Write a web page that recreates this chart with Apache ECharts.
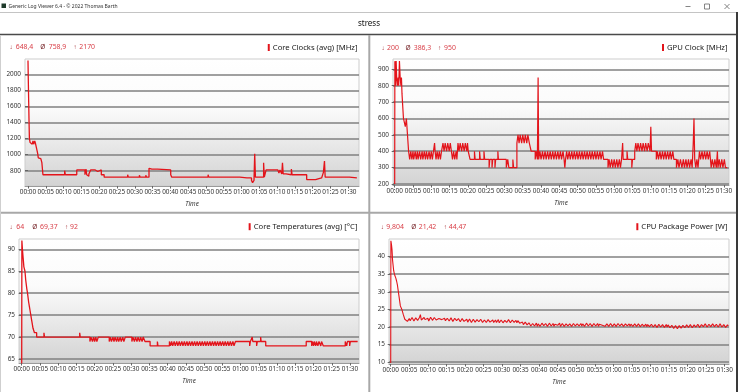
<!DOCTYPE html>
<html><head><meta charset="utf-8">
<script src="https://cdn.jsdelivr.net/npm/echarts@6/dist/echarts.min.js"></script>
<style>html,body{margin:0;padding:0;background:#fff}#c{width:738px;height:392px}</style>
</head><body><div id="c"></div>
<script>
// ---------- data (minutes, value) ----------
const timeTicks = [0,5,10,15,20,25,30,35,40,45,50,55,60,65,70,75,80,85,90];
const clockTicks = [800,1000,1200,1400,1600,1800,2000];
const gpuTicks = [200,300,400,500,600,700,800,900];
const tempTicks = [65,70,75,80,85,90];
const powerTicks = [10,15,20,25,30,35,40];

const clockStats = ['648,4','758,9','2170'];
const gpuStats = ['200','386,3','950'];
const tempStats = ['64','69,37','92'];
const powerStats = ['9,804','21,42','44,47'];

const panelTitles = ['Core Clocks (avg) [MHz]','GPU Clock [MHz]','Core Temperatures (avg) [°C]','CPU Package Power [W]'];

const clockData = [
[0,2170],[0.1,1900],[0.2,1650],[0.3,1400],[0.4,1200],[0.6,1150],[0.9,1130],[1.2,1110],[1.4,1170],[1.6,1130],[1.9,1170],[2.1,1140],[2.3,1100],[2.5,1060],[2.7,1020],[2.9,960],[3.2,950],[3.6,930],[3.9,900],[4.2,750],
[10.3,800],[10.5,750],
[13.7,810],[16.0,750],[16.3,820],[16.5,750],[16.8,730],[17.1,760],[17.6,810],[18.9,790],[19.2,810],[19.4,790],[19.6,810],[20.6,750],[21.4,720],
[28.0,750],[28.2,720],[31.3,745],[31.5,720],[33.1,745],[33.3,720],
[34.0,830],[34.4,820],[34.8,840],[35.2,820],[35.6,835],[36.0,820],[36.4,830],[36.9,810],[40.1,750],[40.4,720],
[50.6,750],[50.8,720],
[59.5,710],[61.5,700],[61.8,710],[62.8,680],[63.1,650],[63.5,680],[63.7,1010],[63.9,720],[66.2,900],[66.4,720],[66.9,810],[70.2,790],[70.5,770],[70.8,810],[71.3,760],[71.5,900],[71.7,760],[72.5,750],[74.0,820],[74.2,750],[76.5,740],[77.0,750],[78.3,690],[80.8,700],[81.5,710],[82.5,700],[83.0,780],[83.3,920],[83.5,720],[85.2,740],[85.4,720],[86.9,740],[87.1,720],[88.2,740],[88.4,720],[90.3,710],[92.4,710]
];

const gpuData = [
[0,200],[0.05,950],[0.25,800],[0.4,950],[0.55,850],[0.75,800],[0.95,850],[1.1,800],[1.3,950],[1.5,850],[1.7,800],[1.85,850],[2.0,750],[2.4,600],[2.9,550],[3.2,600],[3.35,550],[3.8,400],
[4.1,350],[4.4,400],[4.7,350],[5.0,400],[5.2,350],[5.6,400],[5.9,350],[6.2,400],[6.4,350],[6.8,400],[7.1,350],[7.5,400],[7.7,350],[8.1,400],[8.4,350],[8.7,400],[9.0,350],[9.4,400],[9.7,350],[10.0,400],[10.3,350],[10.6,400],[10.9,450],[11.05,400],[11.3,350],[11.6,400],[11.9,350],[12.2,400],[12.5,350],[12.8,400],
[13.2,450],[13.5,400],[13.8,450],[14.2,400],[14.5,450],[14.9,400],[15.2,450],[15.5,400],[15.8,350],[16.1,400],[16.4,350],[16.8,400],[17.0,350],
[17.3,450],[17.6,400],[17.9,450],[18.3,400],[18.6,450],[19.0,400],[19.3,450],[19.7,400],[19.9,450],[20.1,400],
[20.6,350],[21.8,400],[22.0,350],[23.2,400],[23.4,350],[24.4,400],[24.6,350],
[25.8,300],[26.0,350],[26.6,300],[26.8,350],[27.4,300],[27.6,350],[28.2,400],[28.35,350],
[30.5,300],[30.9,350],[31.2,300],[32.3,350],[32.5,300],[33.4,450],
[33.7,500],[34.0,450],[34.3,500],[34.7,450],[35.0,500],[35.4,450],[35.7,500],[36.1,450],[36.4,500],[36.8,450],[37.3,400],
[38.4,350],[38.7,400],[39.0,350],[39.2,850],[39.35,350],
[39.7,400],[40.0,350],[40.4,400],[40.7,350],[41.1,400],[41.4,350],[41.8,400],[42.1,350],[42.5,400],[42.8,350],[43.2,400],[43.5,350],[43.9,400],[44.2,350],[44.6,400],[44.9,350],[45.3,400],[45.6,350],[46.0,400],[46.3,350],[46.5,300],[46.7,350],
[47.0,400],[47.3,350],[47.7,400],[48.0,350],[48.4,400],[48.7,350],[49.1,400],[49.4,350],[49.8,400],[50.1,350],[50.5,400],[50.8,350],[51.2,400],[51.5,350],[51.9,400],[52.2,350],[52.6,400],[52.9,350],[53.3,400],[53.6,350],[54.0,400],[54.3,350],[54.7,400],[55.0,350],[55.4,400],[55.7,350],[56.1,400],[56.4,350],[56.8,400],[57.1,350],
[58.3,300],[58.6,350],[58.9,300],[59.3,350],[59.6,300],[60.0,350],[60.3,300],[60.7,350],[61.0,300],[61.4,350],[61.7,300],[62.0,350],[62.3,450],[62.45,350],
[63.5,400],[63.7,350],[64.8,300],[65.0,350],
[65.6,400],[65.9,450],[66.2,400],[66.5,450],[66.9,400],[67.2,450],[67.6,400],[67.9,450],[68.3,400],[68.6,450],[69.0,400],[69.3,450],[69.8,400],[70.0,550],[70.2,400],
[71.5,350],[71.8,400],[72.1,350],[72.5,400],[72.8,350],[73.2,400],[73.5,350],[73.9,400],[74.2,350],[74.6,400],[74.9,350],[75.3,400],[75.6,350],[76.0,400],[76.3,350],
[77.0,300],[77.4,350],[77.7,300],[78.1,350],[78.5,300],[78.9,350],[79.2,300],[79.6,350],[79.9,300],[80.3,350],[80.6,300],[81.0,350],[81.3,300],[81.6,450],[81.8,600],[82.0,350],[82.3,300],[82.6,350],[82.9,300],
[83.3,400],[83.6,350],[84.0,400],[84.3,350],[84.7,400],[85.0,350],[85.4,400],[85.7,350],[86.1,400],
[86.5,300],[86.8,350],[87.2,300],[87.5,350],[87.9,300],[88.2,400],[88.35,300],[88.7,350],[89.0,300],[89.4,350],[89.7,300],[90.1,350],[90.4,300],[90.9,300]
];

const tempData = [
[0,64],[0.05,92],[0.2,90],[0.4,88],[0.6,86],[0.9,85],[1.1,83],[1.4,81],[1.6,80],[1.9,78],[2.1,77],[2.3,76],[2.5,75],[2.7,74],[2.9,73],[3.1,72],[3.5,71],[4.1,70],
[6.1,71],[6.25,70],[15.9,71],[16.05,70],
[18.7,69],[19.0,70],[19.4,69],[19.7,70],[20.0,69],[20.3,70],[20.6,69],[21.0,70],
[24.0,69],[24.3,70],[24.6,69],[25.0,70],[25.3,69],[25.6,70],[26.0,69],[26.3,70],[26.6,69],[27.0,70],[27.3,69],[27.7,70],[28.0,69],[28.4,70],
[30.2,69],[30.5,70],[30.9,69],[31.2,70],[31.6,69],[31.9,70],[32.3,69],[32.6,70],[33.0,69],[33.3,70],[33.8,69],
[35.2,68],[37.2,69],[37.35,68],
[40.5,69],[40.8,68],[41.1,69],[41.4,68],[41.8,69],[42.1,68],[42.5,69],[42.8,68],[43.2,69],[43.5,68],[43.9,69],[44.2,68],[44.6,69],[44.9,68],[45.3,69],[45.6,68],[46.0,69],[46.3,68],[46.7,69],[47.0,68],[47.4,69],[47.7,68],[48.1,69],[48.4,68],[48.8,69],[49.1,68],[49.5,69],[49.8,68],[50.2,69],[50.5,68],[50.9,69],[51.2,68],[51.6,69],[51.9,68],[52.3,69],[52.6,68],[53.0,69],[53.3,68],[53.7,69],[54.0,68],[54.4,69],[54.7,68],[55.1,69],[55.4,68],[55.8,69],[56.1,68],[56.5,69],[56.8,68],[57.2,69],[57.5,68],[57.9,69],[58.2,68],[58.6,69],
[62.5,68],[62.7,69],[63.2,70],[63.35,69],[64.4,68],[64.6,69],[65.5,70],[65.65,69],[66.9,68],
[78.0,69],[79.5,68],[79.7,69],[80.0,68],[80.2,69],[80.6,68],[80.8,69],[81.2,68],[81.5,69],[82.0,68],[82.2,69],[82.7,68],
[88.7,69],[89.1,68],[89.3,69],[89.9,68],[90.1,69],[92.1,69]
];

const powerData = [
[0,9.8],[0.05,44.5],[0.2,43.5],[0.35,42],[0.5,39],[0.65,38.5],[0.8,36],[1.0,35],[1.2,34.5],[1.4,33.8],[1.6,33],[1.8,32],[2.0,30.5],[2.2,29],[2.4,27.5],[2.6,26],[2.8,25.5],[3.0,25],[3.2,24.5],[3.4,23.5],[3.6,23],[3.8,22.2],[4.0,21.8],[4.3,22.2],[4.5,21.6],
[5,22.4],[5.25,21.8],[5.5,21.9],[5.75,22.7],[6,22.6],[6.25,21.7],[6.5,22.0],[6.75,22.6],[7,22.8],[7.25,21.9],[7.5,22.1],[7.75,22.7],[8,23.5],[8.25,22.0],[8.5,22.2],[8.75,21.8],[9,22.7],[9.25,22.1],[9.5,21.8],[9.75,22.6],
[10,22.5],[10.25,21.7],[10.5,22.0],[10.75,22.8],[11,22.9],[11.25,21.9],[11.5,22.2],[11.75,22.7],[12,22.6],[12.25,22.0],[12.5,21.7],[12.75,22.5],[13,22.4],[13.25,21.9],[13.5,22.8],[13.75,22.1],[14,21.9],[14.25,22.6],[14.5,22.5],[14.75,21.8],
[15,22.1],[15.25,22.5],[15.5,22.7],[15.75,21.7],[16,21.8],[16.25,22.6],[16.5,22.4],[16.75,21.6],[17,22.0],[17.25,22.5],[17.5,22.9],[17.75,21.8],[18,21.6],[18.25,22.4],[18.5,22.3],[18.75,21.5],[19,21.7],[19.25,22.4],[19.5,22.5],[19.75,21.6],
[20,21.4],[20.25,22.1],[20.5,22.2],[20.75,21.4],[21,21.6],[21.25,22.3],[21.5,22.4],[21.75,21.3],[22,21.5],[22.25,22.2],[22.5,22.0],[22.75,21.4],[23,21.3],[23.25,22.1],[23.5,22.3],[23.75,21.5],[24,21.6],[24.25,22.2],[24.5,22.1],[24.75,21.3],
[25,21.4],[25.25,22.0],[25.5,22.2],[25.75,21.3],[26,21.5],[26.25,22.1],[26.5,21.9],[26.75,21.4],[27,21.2],[27.25,21.9],[27.5,22.0],[27.75,21.3],[28,21.6],[28.25,22.0],[28.5,21.3],[28.75,21.8],[29,22.1],[29.25,21.2],[29.5,21.5],[29.75,22.0],
[30,21.8],[30.25,21.2],[30.5,21.3],[30.75,21.9],[31,22.2],[31.25,21.3],[31.5,21.5],[31.75,22.1],[32,21.9],[32.25,21.2],[32.5,21.4],[32.75,22.0],[33,22.0],[33.25,21.3],[33.5,21.6],[33.75,21.9],[34,21.2],[34.25,21.8],[34.5,21.7],[34.75,21.1],
[35,21.1],[35.25,21.6],[35.5,21.4],[35.75,20.7],[36,20.8],[36.25,21.4],[36.5,21.2],[36.75,20.6],[37,20.5],[37.25,21.2],[37.5,21.0],[37.75,20.3],[38,20.4],[38.25,21.0],[38.5,21.1],[38.75,20.3],[39,20.6],[39.25,21.1],[39.5,20.2],[39.75,20.9],
[40,21.0],[40.25,20.2],[40.5,20.5],[40.75,21.1],[41,21.2],[41.25,20.4],[41.5,20.3],[41.75,21.0],[42,20.9],[42.25,20.2],[42.5,20.4],[42.75,21.1],[43,21.3],[43.25,20.3],[43.5,20.6],[43.75,21.0],[44,20.2],[44.25,20.8],[44.5,21.0],[44.75,20.3],
[45,20.5],[45.25,21.0],[45.5,21.1],[45.75,20.2],[46,20.3],[46.25,21.0],[46.5,20.9],[46.75,20.2],[47,20.4],[47.25,20.9],[47.5,21.2],[47.75,20.3],[48,20.1],[48.25,20.9],[48.5,20.8],[48.75,20.2],[49,20.5],[49.25,21.0],[49.5,21.0],[49.75,20.3],
[50,20.2],[50.25,20.9],[50.5,21.4],[50.75,20.3],[51,20.6],[51.25,21.0],[51.5,20.3],[51.75,20.9],[52,21.0],[52.25,20.2],[52.5,20.5],[52.75,21.1],[53,21.2],[53.25,20.3],[53.5,20.4],[53.75,21.0],[54,20.9],[54.25,20.2],[54.5,20.3],[54.75,21.0],
[55,21.0],[55.25,20.3],[55.5,20.6],[55.75,21.0],[56,20.2],[56.25,20.8],[56.5,21.1],[56.75,20.3],[57,20.5],[57.25,21.0],[57.5,20.9],[57.75,20.2],[58,20.3],[58.25,20.9],[58.5,21.0],[58.75,20.2],[59,20.4],[59.25,21.0],[59.5,20.8],[59.75,20.2],
[60,20.3],[60.25,20.9],[60.5,21.0],[60.75,20.2],[61,20.5],[61.25,21.0],[61.5,20.9],[61.75,20.3],[62,20.2],[62.25,20.9],[62.5,20.8],[62.75,20.2],[63,20.4],[63.25,20.9],[63.5,21.1],[63.75,20.3],[64,20.5],[64.25,20.9],[64.5,20.2],[64.75,20.8],
[65,20.9],[65.25,20.2],[65.5,20.4],[65.75,20.9],[66,21.0],[66.25,20.2],[66.5,20.3],[66.75,20.9],[67,20.7],[67.25,20.1],[67.5,20.2],[67.75,20.8],[68,20.9],[68.25,20.2],[68.5,20.5],[68.75,20.8],[69,20.1],[69.25,20.7],[69.5,20.8],[69.75,20.1],
[70,20.3],[70.25,20.8],[70.5,20.9],[70.75,20.0],[71,20.1],[71.25,20.7],[71.5,20.6],[71.75,19.9],[72,20.2],[72.25,20.8],[72.5,20.8],[72.75,20.0],[73,20.0],[73.25,20.7],[73.5,20.7],[73.75,19.9],[74,20.3],[74.25,20.7],[74.5,20.0],[74.75,20.6],
[75,20.6],[75.25,19.8],[75.5,19.8],[75.75,20.5],[76,20.4],[76.25,19.6],[76.5,19.6],[76.75,20.4],[77,20.2],[77.25,19.5],[77.5,19.7],[77.75,20.4],[78,20.3],[78.25,19.7],[78.5,19.9],[78.75,20.5],[79,20.5],[79.25,19.8],[79.5,20.0],[79.75,20.6],
[80,20.6],[80.25,19.9],[80.5,20.1],[80.75,20.7],[81,20.4],[81.25,19.8],[81.5,19.9],[81.75,20.6],[82,20.7],[82.25,20.0],[82.5,20.2],[82.75,20.8],[83,20.5],[83.25,19.9],[83.5,20.0],[83.75,20.7],[84,20.8],[84.25,20.1],[84.5,20.3],[84.75,20.9],
[85,20.6],[85.25,20.0],[85.5,20.1],[85.75,20.8],[86,20.9],[86.25,20.1],[86.5,20.4],[86.75,20.9],[87,21.4],[87.25,20.1],[87.5,20.2],[87.75,20.8],[88,20.7],[88.25,20.0],[88.5,20.3],[88.75,20.9],[89,20.8],[89.25,20.0],[89.5,20.1],[89.75,20.7],
[90,20.6],[90.25,19.9],[90.5,20.0],[90.75,20.6],[91,20.3]
];

// ---------- styling ----------
const FF = '"Noto Sans", "Open Sans", sans-serif';
const RED = '#e3141b';
const STAT = '#d9414a';
const pad2 = n => (n < 10 ? '0' : '') + n;
const fmtTime = v => pad2(Math.floor(Math.round(v) / 60)) + ':' + pad2(Math.round(v) % 60);

function plotBg() {
  return new echarts.graphic.LinearGradient(0, 0, 0, 1, [
    {offset: 0, color: '#ffffff'}, {offset: 0.38, color: '#fbfbfb'}, {offset: 1, color: '#d3d3d3'}]);
}
function grid(left, top, width, height) {
  return {left, top, width, height, show: true, backgroundColor: plotBg(), borderColor: '#cdcdcd', borderWidth: 1};
}
function xAx(gi, min, max) {
  return {type: 'value', gridIndex: gi, min, max,
    name: 'Time', nameLocation: 'middle', nameGap: 15,
    nameTextStyle: {fontStyle: 'italic', fontSize: 6.4, color: '#333', fontFamily: FF},
    axisLine: {show: true, lineStyle: {color: '#9a9a9a', width: 1}},
    axisTick: {show: true, customValues: timeTicks, length: 2.5, lineStyle: {color: '#666'}},
    axisLabel: {customValues: timeTicks, formatter: fmtTime, fontSize: 6.4, color: '#333', margin: 3, fontFamily: FF},
    splitLine: {show: false}};
}
function yAx(gi, min, max, ticks) {
  return {type: 'value', gridIndex: gi, min, max,
    axisLine: {show: false},
    axisTick: {show: true, customValues: ticks, length: 3, lineStyle: {color: '#666'}},
    axisLabel: {customValues: ticks, formatter: v => String(v), fontSize: 6.4, color: '#333', margin: 4, fontFamily: FF},
    splitLine: {show: true, lineStyle: {color: '#808080', width: 1.5}}};
}
function ser(i, data, step, w) {
  return {type: 'line', xAxisIndex: i, yAxisIndex: i, data, step: step ? 'end' : false,
    showSymbol: false, symbol: 'none', animation: false,
    lineStyle: {color: RED, width: w}, z: 3};
}

// ---------- chrome & annotations ----------
const g = [];
function line(x1, y1, x2, y2, color, w) {
  g.push({type: 'line', shape: {x1, y1, x2, y2}, style: {stroke: color, lineWidth: w}, silent: true});
}
function text(x, y, t, size, color, align, extra) {
  g.push({type: 'text', x, y, silent: true,
    style: Object.assign({text: t, fill: color, fontSize: size, fontFamily: FF, align: align || 'left', verticalAlign: 'middle'}, extra || {})});
}
// window title bar
g.push({type: 'rect', shape: {x: 1.5, y: 3.5, width: 4.5, height: 4.5}, style: {fill: '#1f3b2b'}, silent: true});
text(8.5, 6.5, 'Generic Log Viewer 6.4 - © 2022 Thomas Barth', 5, '#333');
line(685.5, 6.5, 690.5, 6.5, '#666', 0.8);
g.push({type: 'rect', shape: {x: 704.5, y: 4, width: 5, height: 5}, style: {fill: 'none', stroke: '#666', lineWidth: 0.8}, silent: true});
line(724.5, 4, 729.5, 9, '#666', 0.8);
line(724.5, 9, 729.5, 4, '#666', 0.8);
line(0, 12.5, 738, 12.5, '#c4c4c4', 1);
text(369, 24, 'stress', 8, '#111', 'center');
line(0, 34.5, 738, 34.5, '#4a4a4a', 1.5);
line(369.3, 35, 369.3, 392, '#a8a8a8', 2);
line(0, 212.8, 738, 212.8, '#a8a8a8', 2);
line(737, 12, 737, 392, '#3a3a3a', 2);
line(0.5, 35, 0.5, 392, '#cfcfcf', 1);

// stats rows
function stats(vals, y, symX, valX) {
  const syms = ['↓', 'Ø', '↑'];
  for (let i = 0; i < 3; i++) {
    text(symX[i], y, syms[i], i === 1 ? 6.6 : 6.4, i === 1 ? '#7a2a2e' : '#a5353b', 'center');
    text(valX[i], y, vals[i], 6.9, STAT, 'left');
  }
}
stats(clockStats, 47, [11, 42.7, 75], [15.7, 48.7, 79.3]);
stats(gpuStats, 47.7, [383, 408, 439.7], [387, 413.7, 444]);
stats(tempStats, 226.7, [11, 34.7, 66.7], [16.3, 40, 70]);
stats(powerStats, 226.7, [382.3, 413.7, 445.3], [386.3, 418.7, 448.7]);

// panel legends (right aligned)
function legend(x, y, t) {
  g.push({type: 'text', x, y, silent: true, style: {
    text: '{b| }{t|' + t + '}', align: 'right', verticalAlign: 'middle',
    rich: {b: {width: 2, height: 7, backgroundColor: RED},
           t: {fontSize: 7.7, fontFamily: FF, fill: '#1a1a1a', color: '#1a1a1a', padding: [0, 0, 0, 3]}}}});
}
legend(357.5, 47.5, panelTitles[0]);
legend(727.5, 47.5, panelTitles[1]);
legend(357.5, 226.7, panelTitles[2]);
legend(727.5, 226.7, panelTitles[3]);

const option = {
  backgroundColor: '#ffffff',
  animation: false,
  grid: [grid(25, 59, 334, 127), grid(393, 59, 336, 126), grid(19, 239, 340, 124), grid(389, 239, 340, 125)],
  xAxis: [xAx(0, -0.84, 93.0), xAx(1, -0.46, 91.37), xAx(2, -0.74, 92.47), xAx(3, -0.46, 91.16)],
  yAxis: [yAx(0, 610, 2190, clockTicks), yAx(1, 194, 963, gpuTicks), yAx(2, 64.1, 92.35, tempTicks), yAx(3, 9.5, 45.0, powerTicks)],
  series: [ser(0, clockData, true, 1.3), ser(1, gpuData, true, 1.2), ser(2, tempData, true, 1.3), ser(3, powerData, false, 1.1)],
  graphic: {elements: g}
};
const chart = echarts.init(document.getElementById('c'), null, {renderer: 'canvas'});
chart.setOption(option);
</script></body></html>
